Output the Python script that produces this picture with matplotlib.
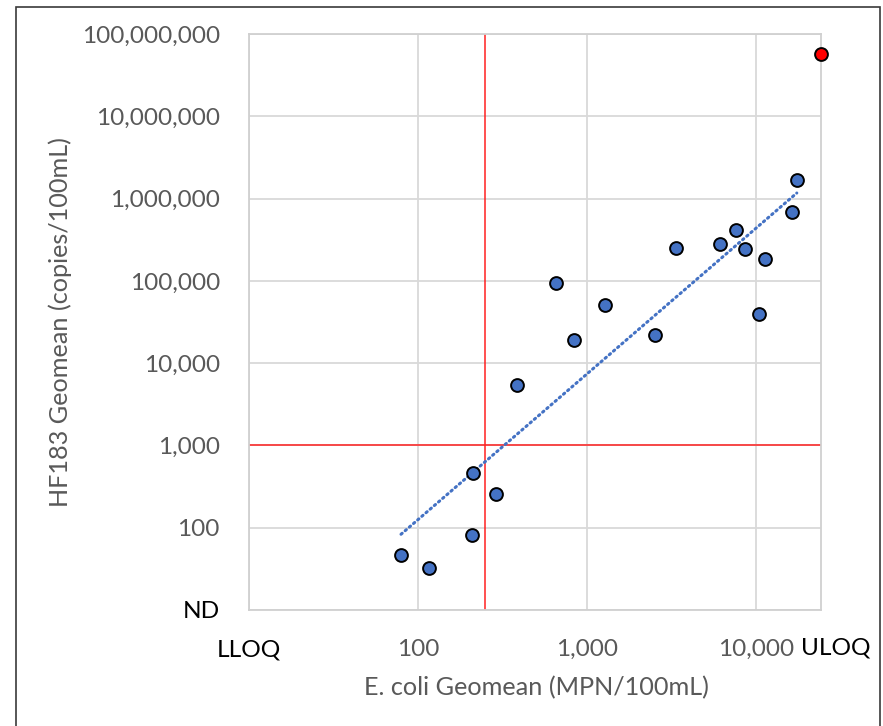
import matplotlib
matplotlib.use('Agg')
import matplotlib.pyplot as plt
import numpy as np
from matplotlib.patches import Rectangle
from matplotlib.ticker import NullLocator

# ---- data ----
ecoli = [79.3, 115.6, 209, 212, 290, 383, 654, 841, 1277, 2527, 3365,
         6110, 7635, 8598, 10400, 11290, 16400, 17400]
hf183 = [46.6, 32.7, 82.2, 458, 259, 5420, 94800, 18900, 50800, 21900, 248000,
         277600, 414000, 243000, 39200, 185700, 679000, 1679000]
ecoli_uloq = [24196]
hf183_uloq = [57000000]

LLOQ = 10
ULOQ = 24196
ND = 10
Y_MAX = 1e8
ecoli_threshold = 250
hf183_threshold = 1000

x_ticks = [10, 100, 1000, 10000]
x_tick_labels = ['LLOQ', '100', '1,000', '10,000']
y_ticks = [10, 100, 1000, 10000, 100000, 1000000, 10000000, 100000000]
y_tick_labels = ['ND', '100', '1,000', '10,000', '100,000', '1,000,000',
                 '10,000,000', '100,000,000']

FONT = 'Lato'
GRAY_TXT = '#595959'
W, H = 883, 726

plt.rcParams['font.family'] = [FONT, 'DejaVu Sans']

fig = plt.figure(figsize=(W / 100, H / 100), dpi=100)
ax = fig.add_axes([249 / W, 1 - 610 / H, (821 - 249) / W, (610 - 34) / H])
ax.set_xscale('log')
ax.set_yscale('log')
ax.set_xlim(LLOQ, ULOQ)
ax.set_ylim(ND, Y_MAX)

ax.set_xticks(x_ticks)
ax.set_xticklabels(x_tick_labels)
ax.set_yticks(y_ticks)
ax.set_yticklabels(y_tick_labels)
ax.xaxis.set_minor_locator(NullLocator())
ax.yaxis.set_minor_locator(NullLocator())
ax.tick_params(axis='both', length=0, labelsize=17.6, colors=GRAY_TXT)
ax.tick_params(axis='y', pad=21)
ax.tick_params(axis='x', pad=21)
for lab in ax.get_xticklabels() + ax.get_yticklabels():
    if lab.get_text() in ('LLOQ', 'ND'):
        lab.set_color('black')

ax.grid(True, which='major', color='#d9d9d9', lw=1.3, zorder=0)
for s in ax.spines.values():
    s.set_color('#d0d0d0')
    s.set_linewidth(1.3)
ax.set_axisbelow(True)

# threshold lines
ax.axvline(ecoli_threshold, color='#ff2020', lw=1.1, zorder=1)
ax.axhline(hf183_threshold, color='#ff2020', lw=1.1, zorder=1)

# power trendline fit on blue points
lx = np.log10(ecoli)
ly = np.log10(hf183)
b, a = np.polyfit(lx, ly, 1)
xs = np.array([min(ecoli), max(ecoli)])
ax.plot(xs, 10 ** (a + b * np.log10(xs)), color='#4472C4', lw=2.2,
        linestyle=(0, (0.5, 1.3)), dash_capstyle='round', zorder=2)

ax.scatter(ecoli, hf183, s=85, color='#4472C4', edgecolor='black',
           linewidth=1.4, zorder=3)
ax.scatter(ecoli_uloq, hf183_uloq, s=85, color='#ff0000', edgecolor='black',
           linewidth=1.4, zorder=3, clip_on=False)

fig.text(836 / W, 1 - 648 / H, 'ULOQ', ha='center', va='center',
         fontsize=17.6, color='black')
fig.text(536 / W, 1 - 688 / H, 'E. coli Geomean (MPN/100mL)', ha='center',
         va='center', fontsize=18.2, color=GRAY_TXT)
fig.text(60 / W, 1 - 322 / H, 'HF183 Geomean (copies/100mL)', ha='center',
         va='center', fontsize=18.2, color=GRAY_TXT, rotation=90)

fig.add_artist(Rectangle((16 / W, -0.05), (880 - 16) / W, 1.05 - 7 / H,
                         transform=fig.transFigure, fill=False,
                         edgecolor='#3a3a3a', lw=1.2))

fig.savefig('out.png', dpi=100)
